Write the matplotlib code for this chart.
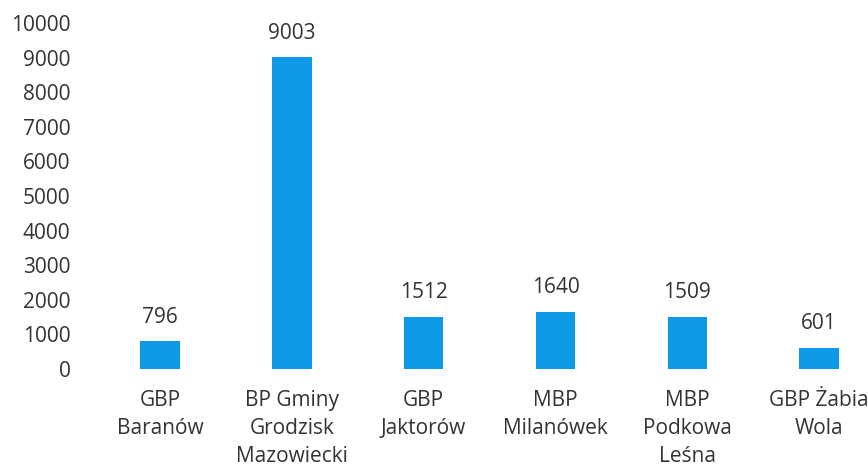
import matplotlib.pyplot as plt

# dane
libraries = ['GBP\nBaranów', 'BP Gminy\nGrodzisk\nMazowiecki', 'GBP\nJaktorów',
             'MBP\nMilanówek', 'MBP\nPodkowa\nLeśna', 'GBP Żabia\nWola']
values = [796, 9003, 1512, 1640, 1509, 601]
yticks = list(range(0, 10001, 1000))

plt.rcParams['font.family'] = ['Open Sans', 'DejaVu Sans']

fig = plt.figure(figsize=(8.68, 4.68), dpi=100)
ax = fig.add_axes([94 / 868, 99 / 468, 774 / 868, 346 / 468])

x = range(len(values))
bars = ax.bar(x, values, width=0.30, color='#0E9AE6')

for xi, v in zip(x, values):
    ax.annotate(str(v), (xi, v), xytext=(0, 10), textcoords='offset points',
                ha='center', va='bottom', fontsize=15, color='#333333')

ax.set_xlim(-0.5, 5.37)
ax.set_ylim(0, 10000)
ax.set_yticks(yticks)
ax.set_yticklabels([str(t) for t in yticks], fontsize=15, color='#333333')
ax.set_xticks(list(x))
ax.set_xticklabels(libraries, fontsize=15, color='#333333', linespacing=1.45)
ax.tick_params(axis='y', length=0, pad=17)
ax.tick_params(axis='x', length=0, pad=15)
for s in ax.spines.values():
    s.set_visible(False)

fig.savefig('out.png', dpi=100)
